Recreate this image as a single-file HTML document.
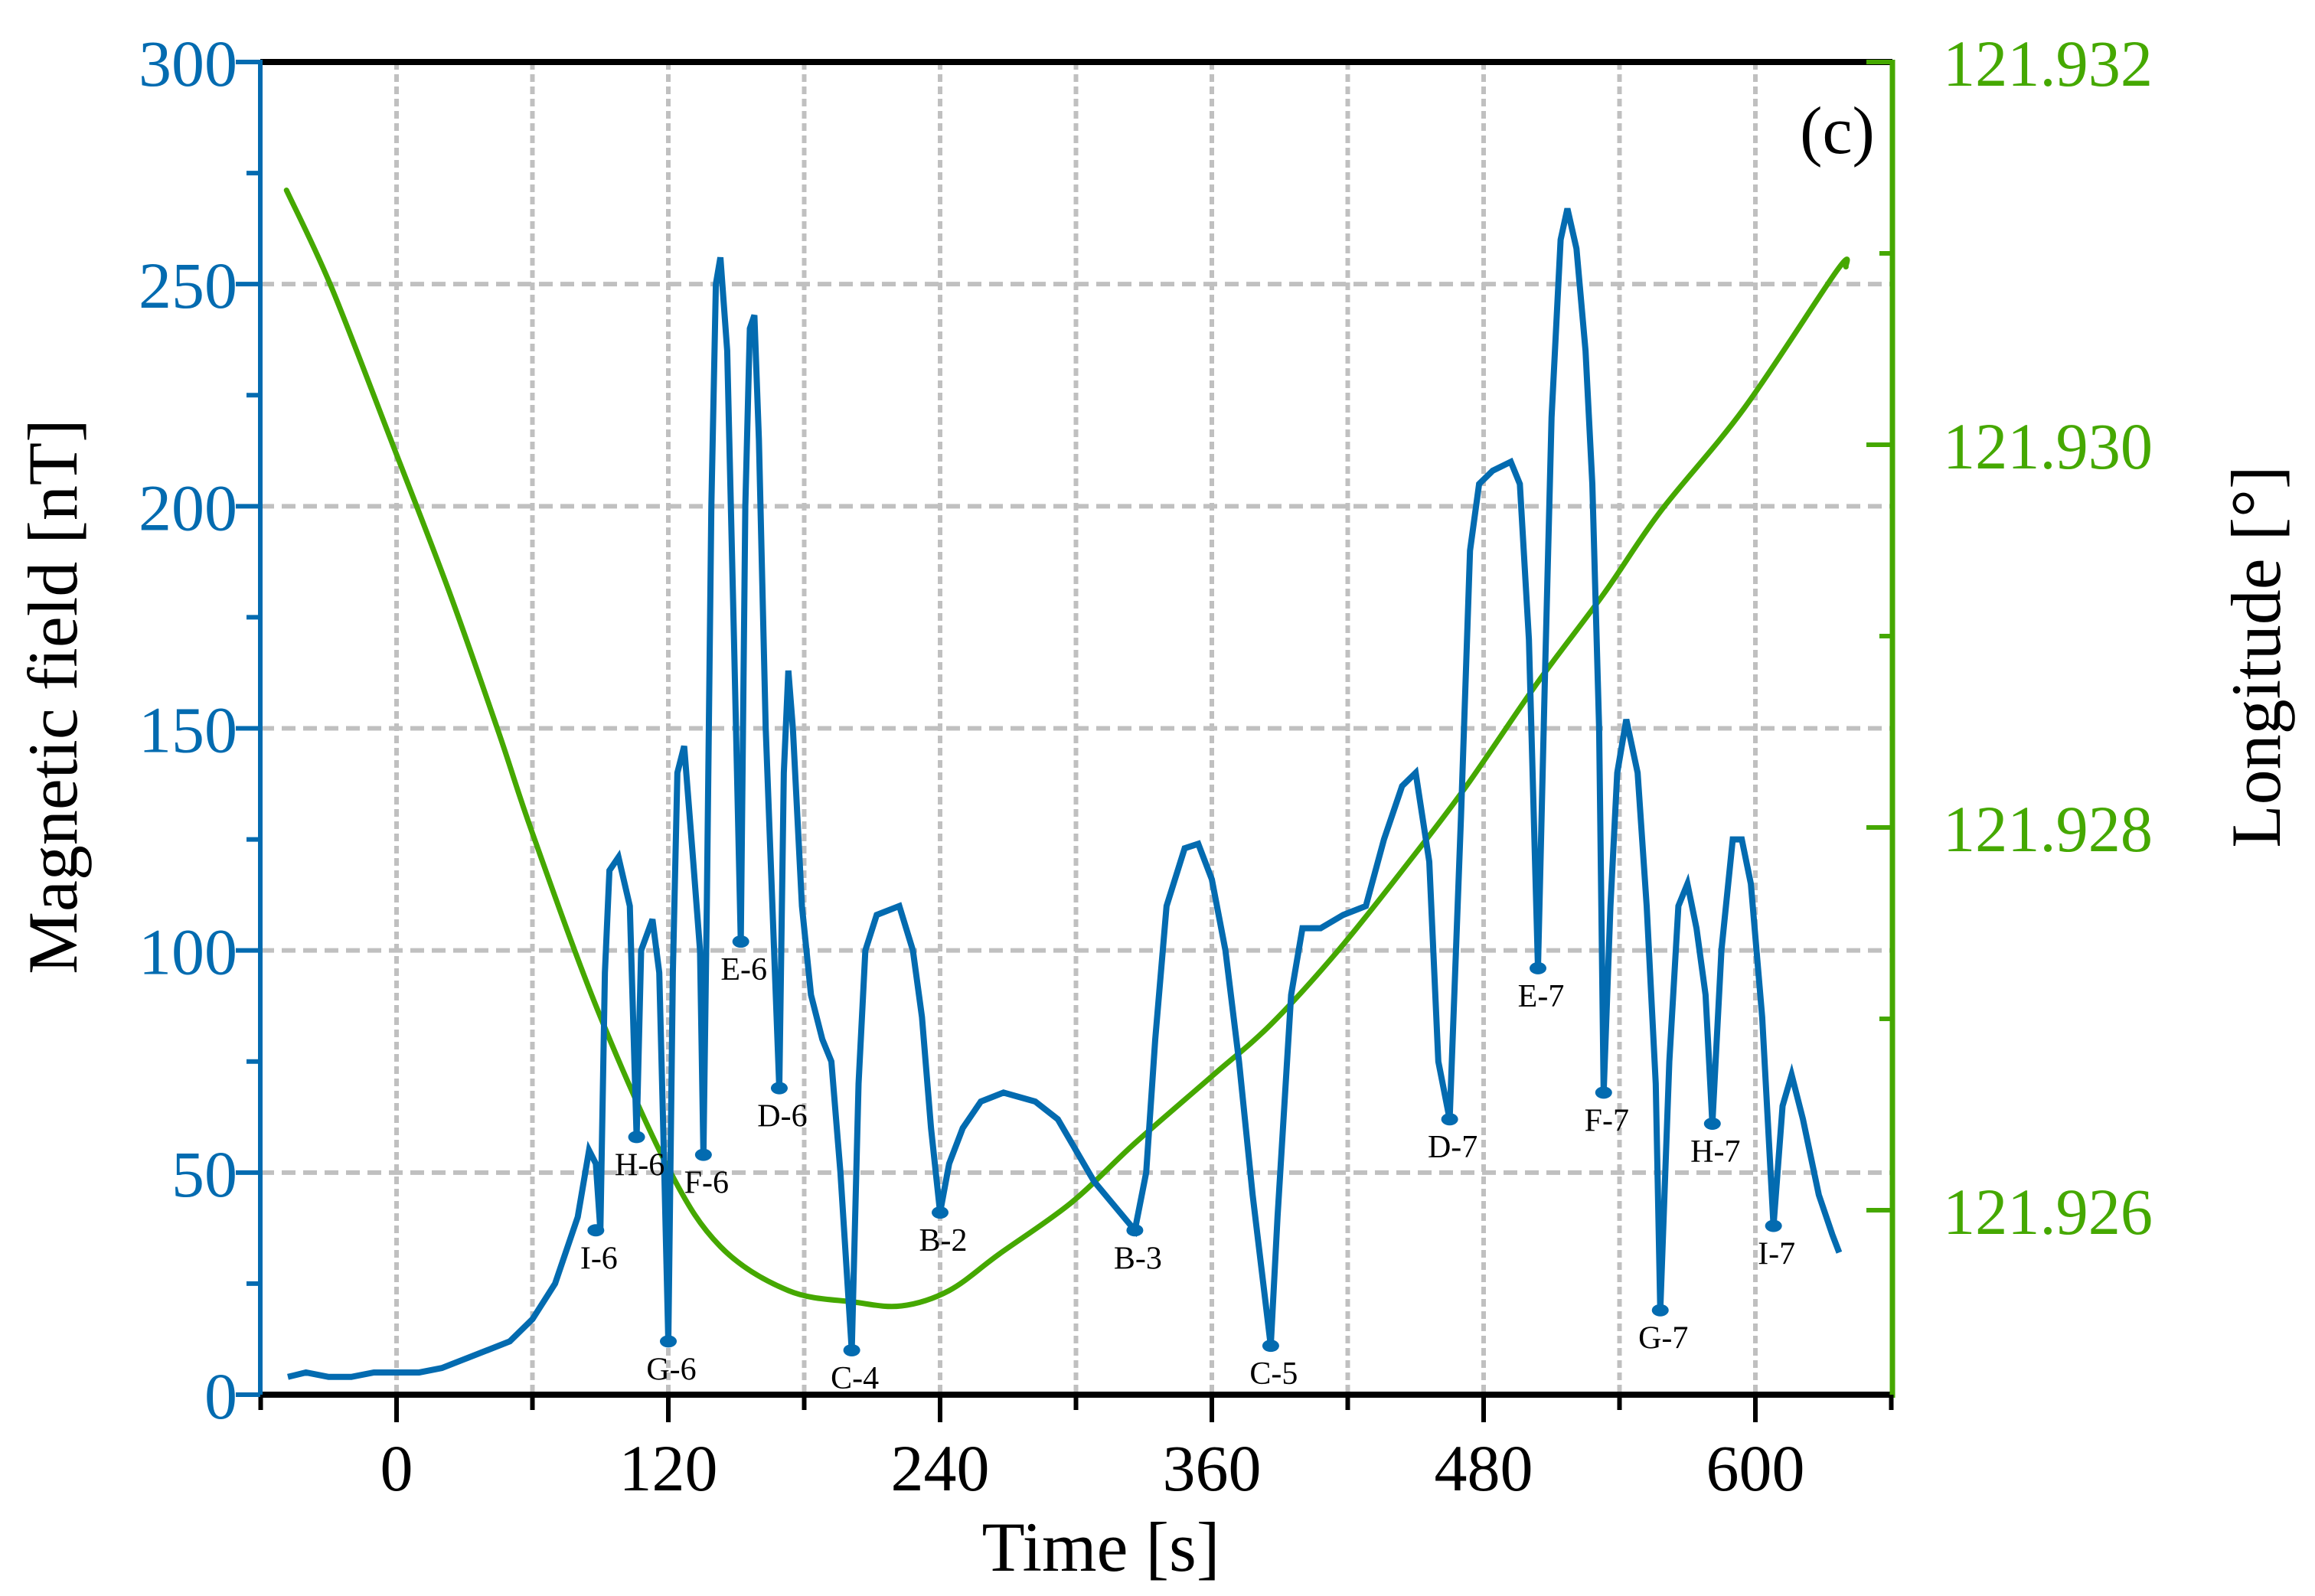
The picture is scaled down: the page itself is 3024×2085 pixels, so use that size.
<!DOCTYPE html>
<html><head><meta charset="utf-8"><style>
html,body{margin:0;padding:0;background:#fff}
svg{display:block}
text{font-family:"Liberation Serif",serif}
</style></head><body>
<svg id="chart" xmlns="http://www.w3.org/2000/svg" width="3024" height="2085" viewBox="0 0 3024 2085">
<g id="grid"></g>
<g id="series"></g>
<g id="axes"></g>
<text x="1438" y="2052" font-size="92" text-anchor="middle">Time [s]</text>
<text x="0" y="0" font-size="92" text-anchor="middle" transform="translate(100,910) rotate(-90)">Magnetic field [nT]</text>
<text x="0" y="0" font-size="92" text-anchor="middle" transform="translate(2978,858) rotate(-90)">Longitude [°]</text>
<text x="2400" y="200" font-size="88" text-anchor="middle">(c)</text>
</svg>
<script>
const timeS = [-48,-40,-30,-20,-10,0,10,20,30,40,50,60,70,80,85,88,90,92,94,98,103,106,108,113,116,118,120,122,124,127,131,134,135.5,137,139,141,143,146,149,152,154,156,158,160,163,169,171,173,175,179,183,188,192,196,201,204,207,212,222,228,232,236,240,244,250,258,268,282,292,300,308,326,331,335,340,348,354,360,366,372,378,386,389,395,400,408,418,428,436,444,450,456,460,465,470,474,478,484,492,496,500,504,507,510,514,517,521,525,528,531,533,536,539,543,548,552,556,558,562,566,570,574,578,581,585,590,594,598,603,608,612,616,621,628,634,637];
const fieldNT = [4,5,4,4,5,5,5,6,8,10,12,17,25,40,55,52,37,95,118,121,110,58,100,107,95,55,12,95,140,146,120,100,54,110,200,250,256,235,170,102,200,240,243,215,150,69,140,163,150,110,90,80,75,50,10,70,100,108,110,100,85,60,41,52,60,66,68,66,62,55,48,37,50,80,110,123,124,116,100,75,45,11,40,90,105,105,108,110,125,137,140,120,75,62,130,190,205,208,210,205,170,96,160,220,260,267,258,235,205,150,68,110,140,152,140,110,70,19,75,110,115,105,90,61,100,125,125,115,85,38,65,72,62,45,36,32];
const lonTime = [-48.6,-29,-2,23,45,60,89,120,143,173,202,223,244,266,298,326,360,386,416,447,472,504,533,558,595,636,640];
const longitude = [121.93133,121.93083,121.93001,121.92924,121.92850,121.92797,121.92704,121.92622,121.92581,121.92558,121.92552,121.92550,121.92558,121.92577,121.92604,121.92635,121.92670,121.92697,121.92736,121.92782,121.92821,121.92876,121.92922,121.92965,121.93019,121.93091,121.93093];
const minLabels = ["I-6","H-6","G-6","F-6","E-6","D-6","C-4","B-2","B-3","C-5","D-7","E-7","F-7","G-7","H-7","I-7"];
const minTimes = [88,106,120,135.5,152,169,201,240,326,386,465,504,533,558,581,608];
const minValues = [37,58,12,54,102,69,10,41,37,11,62,96,68,19,61,38];
const xTicks = [0,120,240,360,480,600];
const xMinor = [-60,60,180,300,420,540,660];
const yTicks = [0,50,100,150,200,250,300];
const lonTicks = [121.926,121.928,121.930,121.932];
const lonMinor = [121.927,121.929,121.931];

const L=340,R=2472,T=81,B=1822;
const X=t=>518+t*(355/120);
const Y=v=>B-v*((B-T)/300);
const YL=l=>T+(121.932-l)/0.002*500;
const NS="http://www.w3.org/2000/svg";
function mk(tag,parent,attrs){const e=document.createElementNS(NS,tag);for(const k in attrs)e.setAttribute(k,attrs[k]);parent.appendChild(e);return e;}
const grid=document.getElementById('grid'),series=document.getElementById('series'),axes=document.getElementById('axes');
const BLUE="#036bb0",GREEN="#45a800";
[...xTicks,...xMinor].forEach(t=>{if(t<=-60||t>=660)return;
 const g=mk('line',grid,{x1:X(t),x2:X(t),y1:T,y2:B,stroke:"#c0c0c0","stroke-width":6,"stroke-dasharray":"10 6"});
 
 });
yTicks.forEach(v=>{if(v===0||v===300)return;
 const g=mk('line',grid,{x1:L,x2:R,y1:Y(v),y2:Y(v),stroke:"#c0c0c0","stroke-width":6,"stroke-dasharray":"18 10"});
 
 });
(function(){
 const pts=lonTime.map((t,i)=>[X(t),YL(longitude[i])]);
 let d="M"+pts[0][0]+","+pts[0][1];
 for(let i=0;i<pts.length-1;i++){
  const p0=pts[Math.max(0,i-1)],p1=pts[i],p2=pts[i+1],p3=pts[Math.min(pts.length-1,i+2)];
  const c1=[p1[0]+(p2[0]-p0[0])/6,p1[1]+(p2[1]-p0[1])/6];
  const c2=[p2[0]-(p3[0]-p1[0])/6,p2[1]-(p3[1]-p1[1])/6];
  d+=" C"+c1[0]+","+c1[1]+" "+c2[0]+","+c2[1]+" "+p2[0]+","+p2[1];
 }
 const gl=mk('path',series,{d:d,fill:"none",stroke:GREEN,"stroke-width":7,"stroke-linecap":"round"});
 
 
})();
const bl=mk('polyline',series,{points:timeS.map((t,i)=>X(t)+","+Y(fieldNT[i])).join(" "),fill:"none",stroke:BLUE,"stroke-width":8,"stroke-linejoin":"miter"});


minLabels.forEach((s,i)=>{
 const c=mk('ellipse',series,{cx:X(minTimes[i]),cy:Y(minValues[i]),rx:11,ry:8,fill:BLUE});
 
 
 const tx=mk('text',series,{x:X(minTimes[i])+4,y:Y(minValues[i])+50,"font-size":42,"text-anchor":"middle",fill:"#000"});
 tx.textContent=s;
 
 
});
let a;
a=mk('line',axes,{x1:L,x2:R,y1:T,y2:T,stroke:"#000","stroke-width":8});
a=mk('line',axes,{x1:L,x2:R,y1:B,y2:B,stroke:"#000","stroke-width":8});
a=mk('line',axes,{x1:L,x2:L,y1:T-3,y2:B,stroke:BLUE,"stroke-width":6});
a=mk('line',axes,{x1:R,x2:R,y1:T-3,y2:B+4,stroke:GREEN,"stroke-width":7});
xTicks.forEach(t=>{
 a=mk('line',axes,{x1:X(t),x2:X(t),y1:B,y2:B+36,stroke:"#000","stroke-width":6});
 
 
 const tx=mk('text',axes,{x:X(t),y:1947,"font-size":86,"text-anchor":"middle",fill:"#000"});tx.textContent=t;
 
 
});
xMinor.forEach(t=>{a=mk('line',axes,{x1:X(t),x2:X(t),y1:B,y2:B+20,stroke:"#000","stroke-width":6});
 
 });
yTicks.forEach(v=>{
 a=mk('line',axes,{x1:L-32,x2:L,y1:Y(v),y2:Y(v),stroke:BLUE,"stroke-width":6});
 
 
 const tx=mk('text',axes,{x:310,y:Y(v)+31,"font-size":86,"text-anchor":"end",fill:BLUE});tx.textContent=v;
 
 
 if(v<300){a=mk('line',axes,{x1:L-18,x2:L,y1:Y(v+25),y2:Y(v+25),stroke:BLUE,"stroke-width":6});
 
 }
});
lonTicks.forEach(l=>{
 a=mk('line',axes,{x1:R-34,x2:R,y1:YL(l),y2:YL(l),stroke:GREEN,"stroke-width":6});
 
 
 const tx=mk('text',axes,{x:2538,y:YL(l)+31,"font-size":86,fill:GREEN,textLength:274,lengthAdjust:"spacingAndGlyphs"});tx.textContent=l.toFixed(3);
 
 
});
lonMinor.forEach(l=>{a=mk('line',axes,{x1:R-17,x2:R,y1:YL(l),y2:YL(l),stroke:GREEN,"stroke-width":6});
 
 });
</script>
</body></html>
